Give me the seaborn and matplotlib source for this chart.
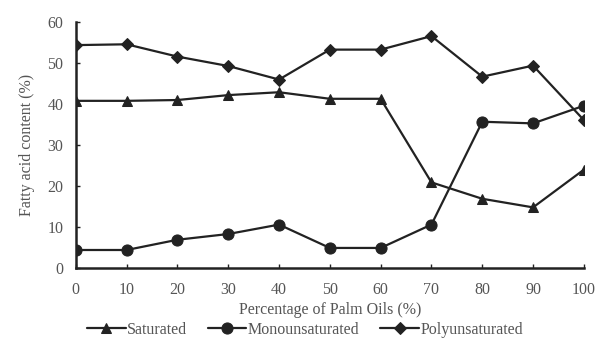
import matplotlib
matplotlib.use("Agg")
import matplotlib.pyplot as plt
import seaborn as sns
import pandas as pd

palm_pct = [0, 10, 20, 30, 40, 50, 60, 70, 80, 90, 100]
saturated = [40.8, 40.8, 41.0, 42.2, 42.9, 41.3, 41.3, 20.9, 16.9, 14.8, 24.0]
monounsaturated = [4.4, 4.4, 6.9, 8.3, 10.6, 4.9, 4.9, 10.6, 35.7, 35.3, 39.6]
polyunsaturated = [54.4, 54.6, 51.6, 49.3, 46.0, 53.3, 53.3, 56.6, 46.7, 49.4, 36.1]

series_names = ["Saturated", "Monounsaturated", "Polyunsaturated"]
series_values = [saturated, monounsaturated, polyunsaturated]
markers = {"Saturated": "^", "Monounsaturated": "o", "Polyunsaturated": "D"}
msizes = {"Saturated": 7, "Monounsaturated": 8, "Polyunsaturated": 6}

df = pd.concat(
    [pd.DataFrame({"pct": palm_pct, "value": vals, "series": name})
     for name, vals in zip(series_names, series_values)],
    ignore_index=True,
)

sns.set_style("ticks")
plt.rcParams["font.family"] = ["Liberation Serif", "DejaVu Serif"]
text_col = "#555555"
line_col = "#222222"
fs = 11.5

fig = plt.figure(figsize=(5.97, 3.41), dpi=100)
ax = fig.add_axes([0.127, 0.214, 0.851, 0.721])

for name in series_names:
    sub = df[df["series"] == name]
    sns.lineplot(data=sub, x="pct", y="value", ax=ax, color=line_col,
                 marker=markers[name], markersize=msizes[name],
                 markeredgecolor=line_col, linewidth=1.6, label=name)

ax.set_xlim(0, 100)
ax.set_ylim(0, 60)
ax.set_xticks(palm_pct)
ax.set_yticks(range(0, 61, 10))
ax.tick_params(axis="x", pad=10)
ax.tick_params(axis="y", pad=9)
ax.tick_params(direction="in", length=3, width=1, colors=line_col,
               labelcolor=text_col, labelsize=fs)
for s in ["top", "right"]:
    ax.spines[s].set_visible(False)
for s in ["left", "bottom"]:
    ax.spines[s].set_linewidth(1.8)
    ax.spines[s].set_color(line_col)

ax.set_xlabel("Percentage of Palm Oils (%)", color=text_col, fontsize=fs, labelpad=3)
ax.set_ylabel("Fatty acid content (%)", color=text_col, fontsize=fs, labelpad=9)

ax.legend(loc="center", bbox_to_anchor=(0.511, 0.032), bbox_transform=fig.transFigure,
          ncol=3, frameon=False, fontsize=fs, handlelength=2.4, columnspacing=1.3,
          handletextpad=0.1, labelcolor=text_col, borderpad=0)

fig.savefig("out.png", dpi=100)
